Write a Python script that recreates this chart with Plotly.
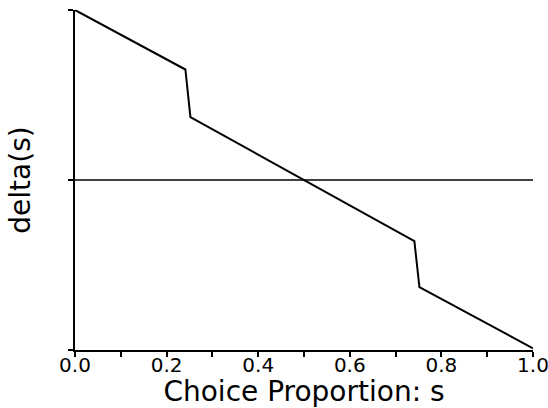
import plotly.graph_objects as go

# Data
s = [0.0, 0.241, 0.252, 0.741, 0.752, 1.0]
delta = [1.0, 0.65, 0.37, -0.36, -0.63, -0.99]
zero_s = [0.0, 1.0]
zero_delta = [0.0, 0.0]
x_ticks = [0.0, 0.2, 0.4, 0.6, 0.8, 1.0]
x_ticktext = ["0.0", "0.2", "0.4", "0.6", "0.8", "1.0"]
y_ticks = [-1.0, 0.0, 1.0]

FONT = "DejaVu Sans"

fig = go.Figure()
fig.add_trace(go.Scatter(x=zero_s, y=zero_delta, mode="lines",
                         line=dict(color="black", width=1.7), showlegend=False,
                         hoverinfo="skip"))
fig.add_trace(go.Scatter(x=s, y=delta, mode="lines",
                         line=dict(color="black", width=2), showlegend=False))

fig.update_layout(
    width=548, height=408,
    margin=dict(l=75, r=15, t=10, b=58),
    paper_bgcolor="white", plot_bgcolor="white",
    font=dict(family=FONT, color="black"),
    xaxis=dict(
        range=[0, 1], tickvals=x_ticks, ticktext=x_ticktext,
        ticks="outside", ticklen=5, tickwidth=1.5, tickcolor="black",
        minor=dict(dtick=0.1, ticks="outside", ticklen=5, tickwidth=1.5, tickcolor="black"),
        showline=True, linecolor="black", linewidth=1.7,
        showgrid=False, zeroline=False,
        tickfont=dict(family=FONT, size=20, color="black"),
        ticklabelstandoff=-9,
        ticklabeloverflow="allow",
        title=dict(text="Choice Proportion: s", font=dict(family=FONT, size=28, color="black"),
                   standoff=0),
        automargin=False,
    ),
    yaxis=dict(
        range=[-1, 1], tickvals=y_ticks, showticklabels=False,
        ticks="outside", ticklen=5, tickwidth=1.5, tickcolor="black",
        showline=True, linecolor="black", linewidth=1.7,
        showgrid=False, zeroline=False,
        title=dict(text="delta(s)", font=dict(family=FONT, size=28, color="black"),
                   standoff=29),
        automargin=False,
    ),
)

fig.write_html("out.html", config={"displayModeBar": False},
               post_script="document.body.style.margin='0px';")
